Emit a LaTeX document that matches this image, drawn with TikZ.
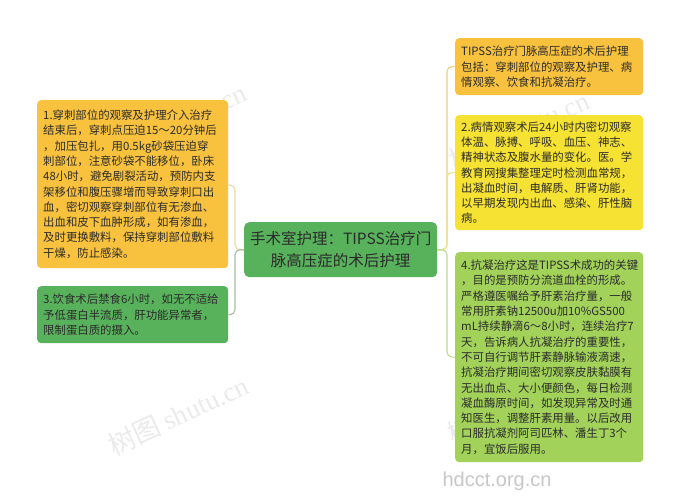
\documentclass[tikz,border=0pt]{standalone}
\usepackage{fontspec}
\setmainfont{Noto Sans CJK SC}
\newfontfamily\wmserif{Liberation Serif}
\newfontfamily\wmsans{Liberation Sans}
\definecolor{cOrange}{HTML}{F9C23E}
\definecolor{cYellow}{HTML}{F6E232}
\definecolor{cGreen}{HTML}{58B25C}
\definecolor{cLight}{HTML}{A2D25A}
\definecolor{cText}{HTML}{2B2B2B}
\definecolor{lnA}{HTML}{E9D086}
\definecolor{lnB}{HTML}{ECE48C}
\definecolor{lnC}{HTML}{BCDA92}
\definecolor{lnL1}{HTML}{EBDCA2}
\definecolor{lnL3}{HTML}{A7BCA7}
\tikzset{
  box/.style={rectangle, rounded corners=4pt, anchor=north west, inner xsep=6pt, inner ysep=0pt,
    align=left, text=cText, font=\fontsize{11.4}{15.3}\selectfont},
  mainbox/.style={rectangle, rounded corners=5pt, anchor=north west, inner xsep=4pt, inner ysep=0pt,
    align=center, text=cText, fill=cGreen, font=\fontsize{15.5}{22}\selectfont},
  conn/.style={line width=1.1pt, rounded corners=5pt},
  wm/.style={text=black!80, opacity=0.10, font=\fontsize{27}{27}\selectfont, rotate=25}
}
\begin{document}
\begin{tikzpicture}[x=1pt,y=-1pt]
\useasboundingbox (0,0) rectangle (682,500);
\fill[white] (0,0) rectangle (682,500);

% watermarks (behind the boxes)
\node[wm] (w1) at (178,415) {树图 {\wmserif shutu.cn}};
\node[wm] (w2) at (176,122) {树图 {\wmserif shutu.cn}};
\node[wm] (w3) at (519,130) {树图 {\wmserif shutu.cn}};
\node[wm] (w4) at (517,403) {树图 {\wmserif shutu.cn}};

\node[mainbox, text width=185pt, minimum height=55pt] (c) at (244,222)
  {手术室护理：TIPSS治疗门\\脉高压症的术后护理};

\node[box, fill=cOrange, text width=179pt, minimum height=168pt] (l1) at (37,100)
  {1.穿刺部位的观察及护理介入治疗\\结束后，穿刺点压迫15～20分钟后\\，加压包扎，用0.5kg砂袋压迫穿\\刺部位，注意砂袋不能移位，卧床\\48小时，避免剧裂活动，预防内支\\架移位和腹压骤增而导致穿刺口出\\血，密切观察穿刺部位有无渗血、\\出血和皮下血肿形成，如有渗血，\\及时更换敷料，保持穿刺部位敷料\\干燥，防止感染。};

\node[box, fill=cGreen, text width=179pt, minimum height=57pt] (l3) at (37,286)
  {3.饮食术后禁食6小时，如无不适给\\予低蛋白半流质，肝功能异常者，\\限制蛋白质的摄入。};

\node[box, fill=cOrange, text width=176pt, minimum height=57pt] (ra) at (455,38)
  {TIPSS治疗门脉高压症的术后护理\\包括：穿刺部位的观察及护理、病\\情观察、饮食和抗凝治疗。};

\node[box, fill=cYellow, text width=176pt, minimum height=115pt] (rb) at (455,115)
  {2.病情观察术后24小时内密切观察\\体温、脉搏、呼吸、血压、神志、\\精神状态及腹水量的变化。医。学\\教育网搜集整理定时检测血常规，\\出凝血时间，电解质、肝肾功能，\\以早期发现内出血、感染、肝性脑\\病。};

\node[box, fill=cLight, text width=176pt, minimum height=210pt] (rc) at (455,252)
  {4.抗凝治疗这是TIPSS术成功的关键\\，目的是预防分流道血栓的形成。\\严格遵医嘱给予肝素治疗量，一般\\常用肝素钠12500u加10\%GS500\\mL持续静滴6～8小时，连续治疗7\\天，告诉病人抗凝治疗的重要性，\\不可自行调节肝素静脉输液滴速，\\抗凝治疗期间密切观察皮肤黏膜有\\无出血点、大小便颜色，每日检测\\凝血酶原时间，如发现异常及时通\\知医生，调整肝素用量。以后改用\\口服抗凝剂阿司匹林、潘生丁3个\\月，宜饭后服用。};

% connectors
\draw[conn, lnL1] (c.west) -| (235,185) -- (l1.east |- 0,185);
\draw[conn, lnL3] (c.west) -| (235,314.5) -- (l3.east);
\draw[conn, lnA] (c.east) -| (447,66.5) -- (ra.west);
\draw[conn, lnB] (c.east) -| (447,172.5) -- (rb.west);
\draw[conn, lnC] (c.east) -| (447,357) -- (rc.west);

\node[text=black!22, font=\wmsans\fontsize{20}{20}\selectfont] (w5) at (497,481) {hdcct.org.cn};
\end{tikzpicture}
\end{document}
